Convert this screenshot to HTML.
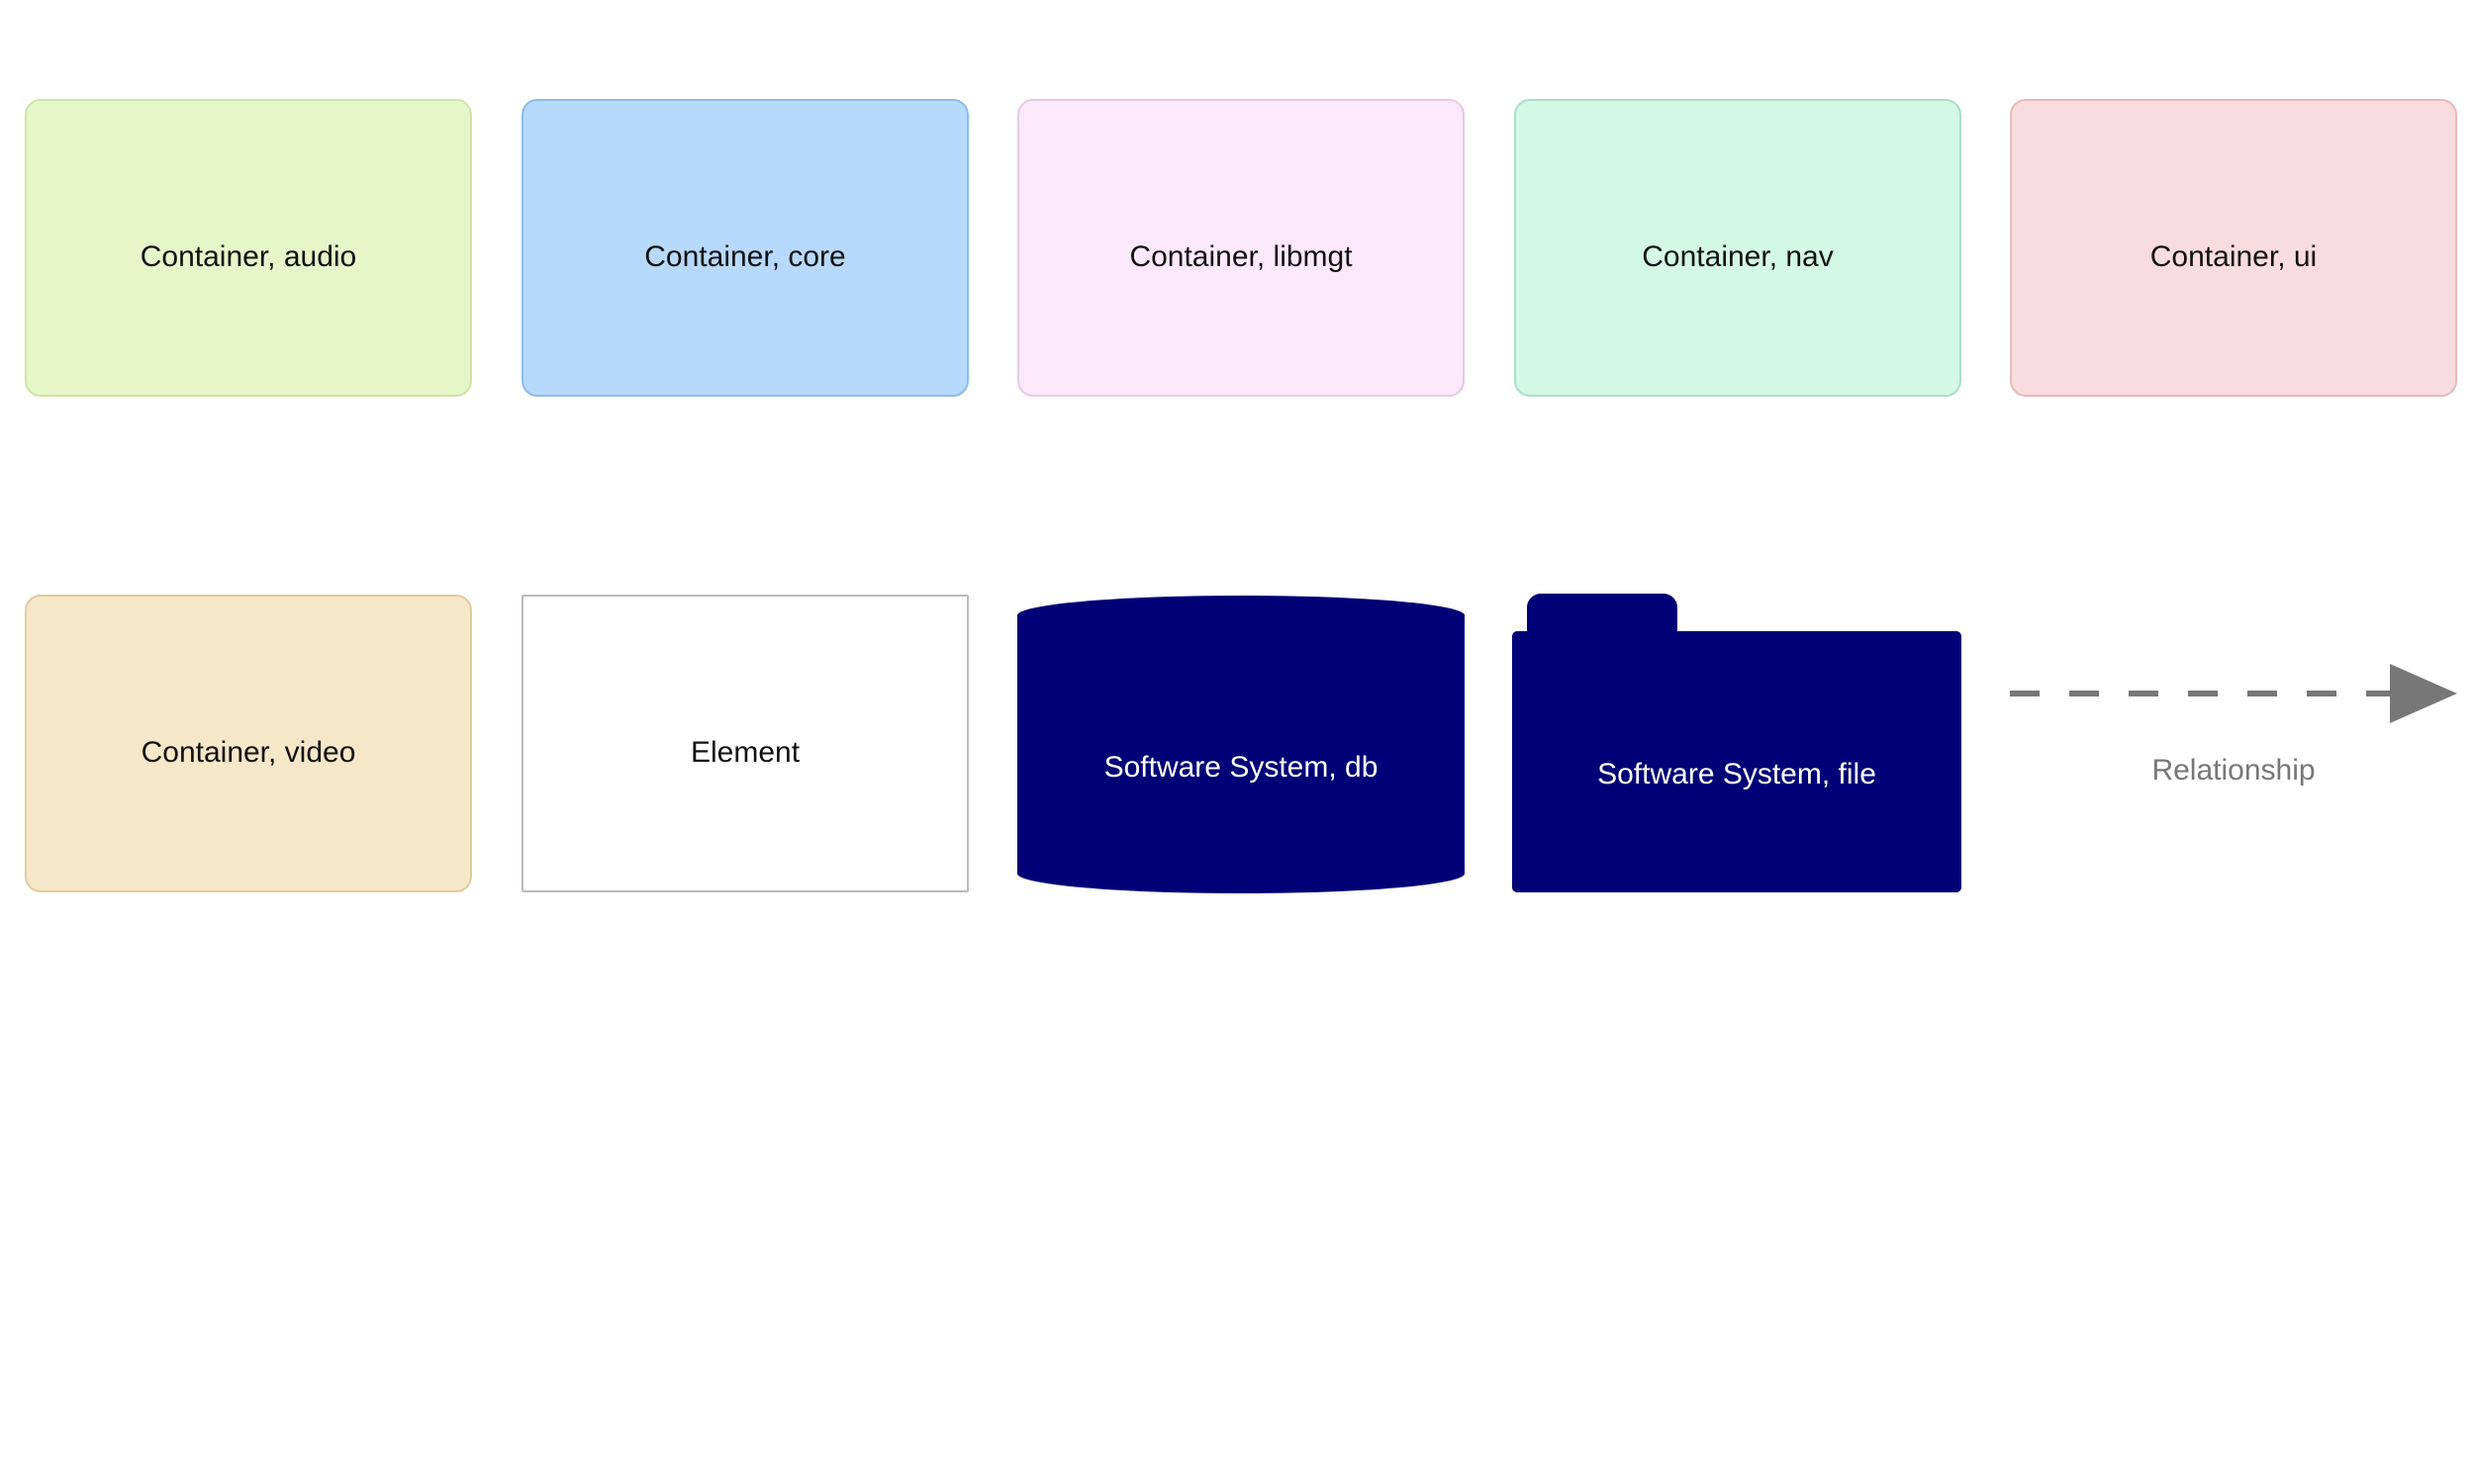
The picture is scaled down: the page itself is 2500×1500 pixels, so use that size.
<!DOCTYPE html>
<html><head><meta charset="utf-8"><style>
body{margin:0;width:2500px;height:1500px;background:#fff;position:relative;overflow:hidden;font-family:"Liberation Sans",sans-serif}
.b{position:absolute;box-sizing:border-box;width:452px;height:301px;border:2px solid;border-radius:16px;display:flex;align-items:center;justify-content:center;font-size:30px;color:#111;padding-top:18px}
</style></head><body>
<div class="b" style="left:25px;top:100px;background:#e6f6c8;border-color:#cde4a6">Container, audio</div>
<div class="b" style="left:527px;top:100px;background:#b7d9fb;border-color:#8fbbe8">Container, core</div>
<div class="b" style="left:1028px;top:100px;background:#fbe9fb;border-color:#e6cbe6">Container, libmgt</div>
<div class="b" style="left:1530px;top:100px;background:#d3f8e6;border-color:#ace0c7">Container, nav</div>
<div class="b" style="left:2031px;top:100px;background:#f9dcdf;border-color:#e6babe">Container, ui</div>
<div class="b" style="left:25px;top:601px;background:#f6e7c8;border-color:#e0cc9e">Container, video</div>
<div class="b" style="left:527px;top:601px;background:#fff;border-color:#bbb;border-radius:2px">Element</div>
<svg width="2500" height="1500" style="position:absolute;left:0;top:0">
<path d="M1028 622 A226 20 0 0 1 1480 622 L1480 883 A226 20 0 0 1 1028 883 Z" fill="#000077"/>
<text x="1254" y="785" font-size="30" fill="#fff" text-anchor="middle" font-family="Liberation Sans">Software System, db</text>
<rect x="1543" y="600" width="152" height="50" rx="14" fill="#000077"/>
<rect x="1528" y="638" width="454" height="264" rx="5" fill="#000077"/>
<text x="1755" y="792" font-size="30" fill="#fff" text-anchor="middle" font-family="Liberation Sans">Software System, file</text>
<line x1="2031" y1="701" x2="2420" y2="701" stroke="#777" stroke-width="6" stroke-dasharray="30 30"/>
<polygon points="2415,671 2483,701 2415,731" fill="#777"/>
<text x="2257" y="788" font-size="30" fill="#777" text-anchor="middle" font-family="Liberation Sans">Relationship</text>
</svg>
</body></html>
